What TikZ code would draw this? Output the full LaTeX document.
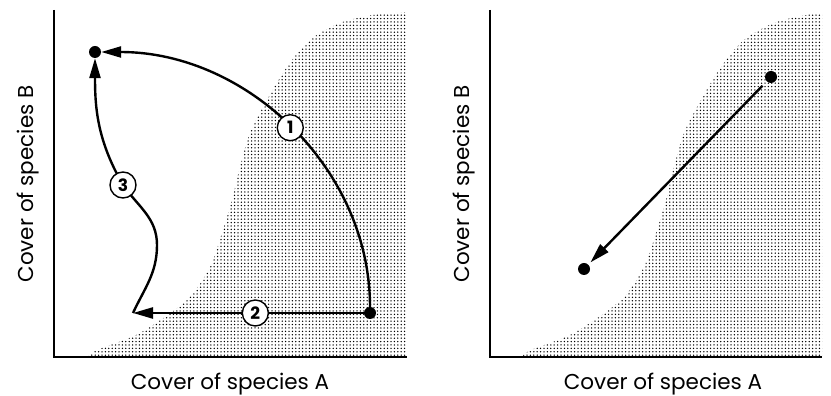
\documentclass[tikz,border=0pt]{standalone}
\usepackage{fontspec}
\setmainfont{Poppins}
\usetikzlibrary{arrows.meta,patterns.meta}
\tikzset{
  axis/.style={line width=1.2pt},
  stipple/.style={pattern={Dots[distance=3.4pt,radius=0.75pt]}, pattern color=black},
  dotnode/.style={circle,fill=black,inner sep=0pt,minimum size=12pt},
  conn/.style={line width=2.4pt,-{Triangle[length=20pt,width=11pt]}},
  numcirc/.style={circle,draw,line width=1.4pt,fill=white,inner sep=0pt,minimum size=26pt,font=\fontsize{17}{17}\selectfont\bfseries},
  axlabel/.style={font=\fontsize{21.5}{22}\selectfont, inner sep=0pt, anchor=base},
}
\begin{document}
\begin{tikzpicture}[x=1pt,y=1pt]
\useasboundingbox (0,0) rectangle (831,396);
% stippled regions
\fill[stipple] plot[smooth] coordinates {(88,39) (97,46) (140,63) (187,96) (210,129) (222,163) (232,196) (240,229) (250,263) (267,296) (287,329) (310,356) (340,373) (373,381) (407,384)} -- (407,39) -- cycle;
\begin{scope}
\clip (490,39) rectangle (822,392);
\fill[stipple, xshift=434pt] plot[smooth] coordinates {(88,39) (97,46) (140,63) (187,96) (210,129) (222,163) (232,196) (240,229) (250,263) (267,296) (287,329) (310,356) (340,373) (373,381) (407,384)} -- (407,39) -- cycle;
\end{scope}
% axes
\draw[axis] (54,386) -- (54,39) -- (407,39);
\draw[axis] (490,386) -- (490,39) -- (822,39);
% left panel
\node[dotnode] (a1) at (95,344) {};
\node[dotnode] (a2) at (370,83) {};
\coordinate (a3) at (133,83);
\draw[conn] (a2) .. controls (370,227) and (247,344) .. node[numcirc,pos=0.5]{1} (a1);
\draw[conn] (a2) -- node[numcirc,pos=0.47]{2} (a3);
\draw[conn] (a3) to[out=65,in=-90] (157,151) to[out=90,in=-55] (123,211) node[numcirc]{3} to[out=120,in=-90] (a1);
% right panel
\node[dotnode] (b1) at (771,319) {};
\node[dotnode] (b2) at (584,127) {};
\draw[conn, shorten <=6pt, shorten >=3pt] (b1) -- (b2);
% labels
\node[axlabel] (xa) at (230,6) {Cover of species A};
\node[axlabel] (xb) at (663,6) {Cover of species A};
\node[axlabel,rotate=90] (ya) at (33,212) {Cover of species B};
\node[axlabel,rotate=90] (yb) at (469,212) {Cover of species B};
\end{tikzpicture}
\end{document}
